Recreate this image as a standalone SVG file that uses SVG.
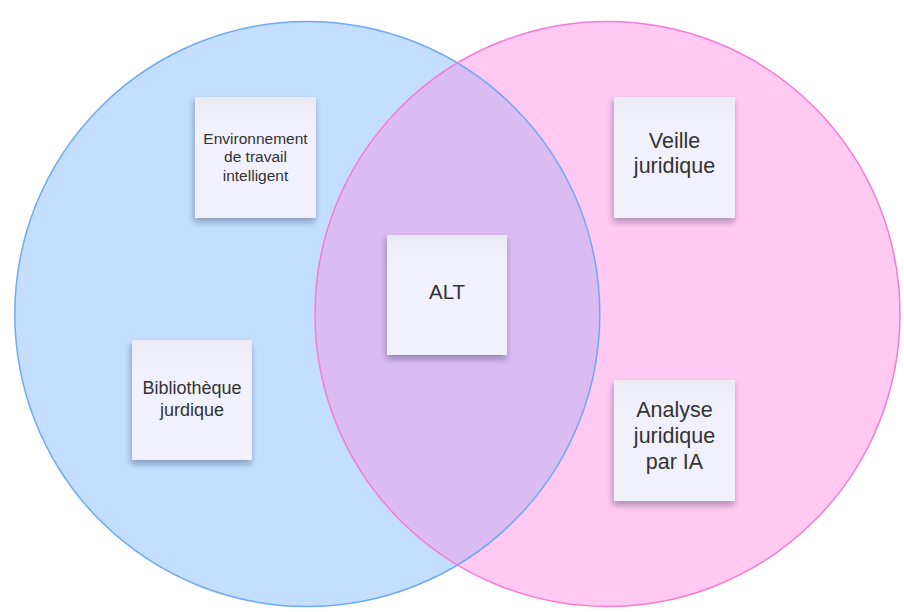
<svg xmlns="http://www.w3.org/2000/svg" width="904" height="612" viewBox="0 0 904 612">
<style>
.note{fill:url(#ng);filter:url(#sh)}
.t{font-family:"Liberation Sans",Arial,sans-serif;fill:#333333;text-anchor:middle}
</style>
<defs>
<linearGradient id="ng" x1="0" y1="0" x2="0" y2="1">
<stop offset="0" stop-color="#ebebf6"/>
<stop offset="0.25" stop-color="#f1f1fd"/>
<stop offset="1" stop-color="#f1f1fd"/>
</linearGradient>
<filter id="sh" x="-20%" y="-20%" width="140%" height="150%">
<feDropShadow dx="-1" dy="4" stdDeviation="3" flood-color="#1a1a40" flood-opacity="0.35"/>
</filter>
<clipPath id="cl"><circle cx="307.3" cy="314" r="292.5"/></clipPath>
</defs>
<rect width="904" height="612" fill="#ffffff"/>
<g id="circles">
<circle id="left" cx="307.3" cy="314" r="292.5" fill="#c3deff"/>
<circle id="right" cx="607.5" cy="314" r="292.5" fill="#ffc9f1"/>
<circle cx="607.5" cy="314" r="292.5" fill="#dabbf2" clip-path="url(#cl)"/>
<circle cx="307.3" cy="314" r="292.5" fill="none" stroke="#6daaf5" stroke-width="1.5"/>
<circle cx="607.5" cy="314" r="292.5" fill="none" stroke="#f57ad6" stroke-width="1.5"/>
</g>
<g id="n-env">
<rect class="note" x="195" y="97" width="121" height="121"/>
<text class="t" font-size="15.5" x="255.5"><tspan x="255.5" y="143.5">Environnement</tspan><tspan x="255.5" y="162">de travail</tspan><tspan x="255.5" y="180.5">intelligent</tspan></text>
</g>
<g id="n-veille">
<rect class="note" x="614" y="97" width="121" height="121"/>
<text class="t" font-size="21.5"><tspan x="674.5" y="148.3">Veille</tspan><tspan x="674.5" y="172.5">juridique</tspan></text>
</g>
<g id="n-alt">
<rect class="note" x="387" y="235" width="120" height="120"/>
<text class="t" font-size="20.5" x="447" y="299">ALT</text>
</g>
<g id="n-biblio">
<rect class="note" x="132" y="340" width="120" height="120"/>
<text class="t" font-size="18"><tspan x="192" y="394.3">Bibliothèque</tspan><tspan x="192" y="415.5">jurdique</tspan></text>
</g>
<g id="n-analyse">
<rect class="note" x="614" y="380" width="121" height="121"/>
<text class="t" font-size="21.5"><tspan x="674.5" y="416.7">Analyse</tspan><tspan x="674.5" y="442.5">juridique</tspan><tspan x="674.5" y="468.5">par IA</tspan></text>
</g>
<g id="connectors"/>
</svg>
